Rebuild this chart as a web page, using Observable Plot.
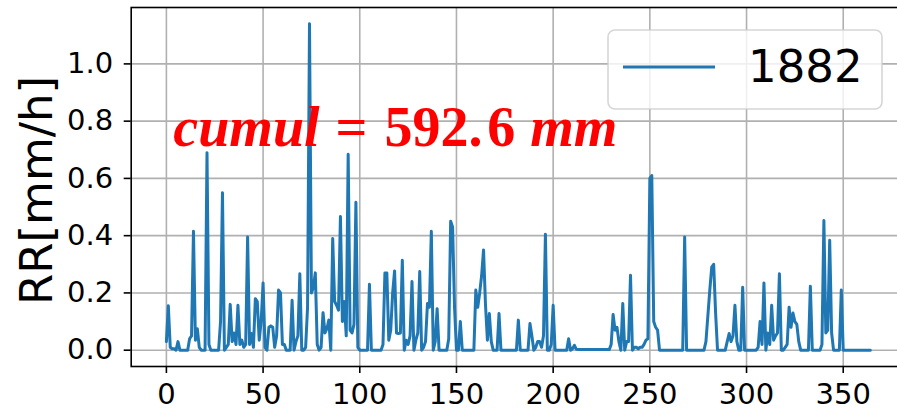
<!DOCTYPE html>
<html>
<head>
<meta charset="utf-8">
<script src="https://cdn.jsdelivr.net/npm/d3@7"></script>
<script src="https://cdn.jsdelivr.net/npm/@observablehq/plot@0.6"></script>
<style>
  html, body { margin: 0; padding: 0; background: #fff; }
  #wrap { position: relative; width: 897px; height: 410px; overflow: hidden; background: #fff; }
  #overlay { position: absolute; left: 0; top: 0; }
</style>
</head>
<body>
<div id="wrap"></div>
<script>
// Daily rain rate (mm/h), day index 0..364, year 1882
const rain = [
  0.03,0.155,0.01,0.005,0.005,0,0.03,0,0,0,
  0,0,0.04,0.05,0.415,0.035,0.075,0.01,0,0,
  0,0.69,0.02,0,0,0,0,0,0.1,0.55,
  0,0.01,0.02,0.16,0.03,0.06,0.02,0.157,0.02,0.035,
  0.01,0.02,0.395,0.02,0.058,0.01,0.18,0.17,0.035,0.1,
  0.235,0.01,0,0.08,0.085,0.08,0.01,0.05,0.21,0.2,
  0.02,0.02,0,0,0,0.174,0,0.03,0.05,0.267,
  0,0,0.01,0.15,1.14,0.2,0.22,0.27,0.02,0,
  0.01,0.131,0.06,0.075,0.105,0,0.39,0.17,0.157,0.14,
  0.467,0.1,0.17,0.05,0.684,0.07,0.06,0.09,0.517,0.01,
  0,0,0,0,0,0.23,0,0,0,0,
  0,0,0.02,0.27,0.27,0.035,0.07,0.2,0.277,0.06,
  0.058,0.06,0.314,0,0.035,0.02,0.05,0.24,0,0.035,
  0.06,0.275,0,0.01,0.03,0.163,0.15,0.415,0,0.03,
  0.145,0,0,0,0,0,0.04,0.45,0.43,0.15,
  0,0,0.1,0,0,0,0,0,0,0,
  0.21,0.15,0.2,0.26,0.35,0.16,0.035,0.128,0.03,0,
  0,0,0.128,0,0,0,0,0,0,0,
  0,0,0.105,0,0,0,0,0,0.093,0.05,
  0,0.01,0.03,0.03,0.01,0.05,0.405,0,0,0.02,
  0.157,0,0,0,0,0,0,0,0.04,0,
  0.005,0.017,0.003,0.002,0.002,0.002,0.002,0.002,0.002,0.002,
  0.002,0.002,0.002,0.002,0.002,0.002,0.002,0.002,0.002,0.002,
  0.02,0.125,0.07,0.08,0.03,0,0.163,0,0.03,0.03,
  0.262,0,0.01,0.01,0.005,0.01,0.01,0.02,0.035,0.04,
  0.6,0.61,0.1,0.08,0.07,0,0,0,0,0,
  0,0,0,0,0,0,0,0,0.395,0,
  0,0,0,0,0,0,0,0,0,0.03,
  0.12,0.21,0.29,0.3,0.13,0,0,0,0,0,
  0.03,0.058,0.03,0.05,0.157,0.03,0,0,0.22,0,
  0,0,0,0,0,0,0.01,0.1,0.02,0.235,
  0,0.06,0.02,0.157,0.035,0.05,0.06,0.267,0,0,
  0.01,0.02,0.15,0.08,0.13,0.1,0.09,0.03,0,0,
  0,0,0,0.223,0,0,0,0,0,0.02,
  0.453,0.06,0.07,0.384,0.06,0,0,0,0,0.21,
  0,0,0,0,0,0,0,0,0,0,
  0,0,0,0,0
];
const days = rain.map((_, i) => i);
const xTicks = [0, 50, 100, 150, 200, 250, 300, 350];
const yTicks = [0, 0.2, 0.4, 0.6, 0.8, 1.0];
const seriesName = "1882";
const yLabel = "RR[mm/h]";
const annotationParts = ["cumul", " =", " 592.", "\u200A6", " mm"];
const annotationItalic = [true, false, false, false, true];
const annotationPos = { x: 3.6, y: 0.712 };

const data = days.map((d, i) => ({ day: d, rr: rain[i] }));
const annotationText = annotationParts.join("");

const plot = Plot.plot({
  width: 897,
  height: 410,
  marginLeft: 130.7,
  marginRight: -8,
  marginTop: 7,
  marginBottom: 44,
  x: { domain: [-18.2, 382.2] },
  y: { domain: [-0.057, 1.197] },
  style: { fontFamily: "DejaVu Sans", background: "white", color: "black" },
  marks: [
    Plot.gridX({ ticks: xTicks, stroke: "#b0b0b0", strokeOpacity: 1, strokeWidth: 1.6 }),
    Plot.gridY({ ticks: yTicks, stroke: "#b0b0b0", strokeOpacity: 1, strokeWidth: 1.6 }),
    Plot.line(data, { x: "day", y: "rr", stroke: "#1f77b4", strokeWidth: 3, strokeLinejoin: "round" }),
    Plot.frame({ stroke: "black", strokeWidth: 1.6 }),
    Plot.axisX({ ticks: xTicks, tickSize: 7, tickPadding: 10, fontSize: 29, strokeWidth: 1.6, label: null, tickFormat: d3.format("d") }),
    Plot.axisY({ ticks: yTicks, tickSize: 7, tickPadding: 11, fontSize: 29, strokeWidth: 1.6, label: null, tickFormat: d3.format(".1f") }),
    Plot.text([yLabel], { frameAnchor: "left", dx: 51 - 130.7, dy: 3.5, rotate: -90, fontSize: 45, lineAnchor: "bottom", textAnchor: "middle", fill: "black" }),
    Plot.text([annotationPos], { x: "x", y: "y", text: () => annotationText, textAnchor: "start", lineAnchor: "bottom", fontSize: 56, fontFamily: "Liberation Serif", fontWeight: "bold", fill: "red" })
  ]
});

const wrap = document.getElementById("wrap");
wrap.appendChild(plot);

// style the annotation: italic letters, upright numbers (math-like)
const annDx = [0, 2, 3, 0, 1];
plot.querySelectorAll("text").forEach((t) => {
  if (t.textContent === annotationText) {
    t.textContent = "";
    annotationParts.forEach((p, i) => {
      const ts = document.createElementNS("http://www.w3.org/2000/svg", "tspan");
      ts.textContent = p;
      if (annotationItalic[i]) ts.setAttribute("font-style", "italic");
      if (annDx[i]) ts.setAttribute("dx", annDx[i]);
      ts.style.whiteSpace = "pre";
      t.appendChild(ts);
    });
  }
});

// legend (inside the axes, upper right)
const ov = d3.select(wrap).append("svg")
  .attr("id", "overlay").attr("width", 897).attr("height", 410);
ov.append("rect")
  .attr("x", 608).attr("y", 30).attr("width", 274).attr("height", 79)
  .attr("rx", 7).attr("ry", 7)
  .attr("fill", "white").attr("fill-opacity", 0.8)
  .attr("stroke", "#cccccc").attr("stroke-opacity", 0.8).attr("stroke-width", 1.6);
ov.append("line")
  .attr("x1", 623).attr("x2", 715).attr("y1", 67).attr("y2", 67)
  .attr("stroke", "#1f77b4").attr("stroke-width", 3);
ov.append("text")
  .attr("x", 748).attr("y", 82.3)
  .attr("font-family", "DejaVu Sans").attr("font-size", 45).attr("fill", "black")
  .text(seriesName);
</script>
</body>
</html>
